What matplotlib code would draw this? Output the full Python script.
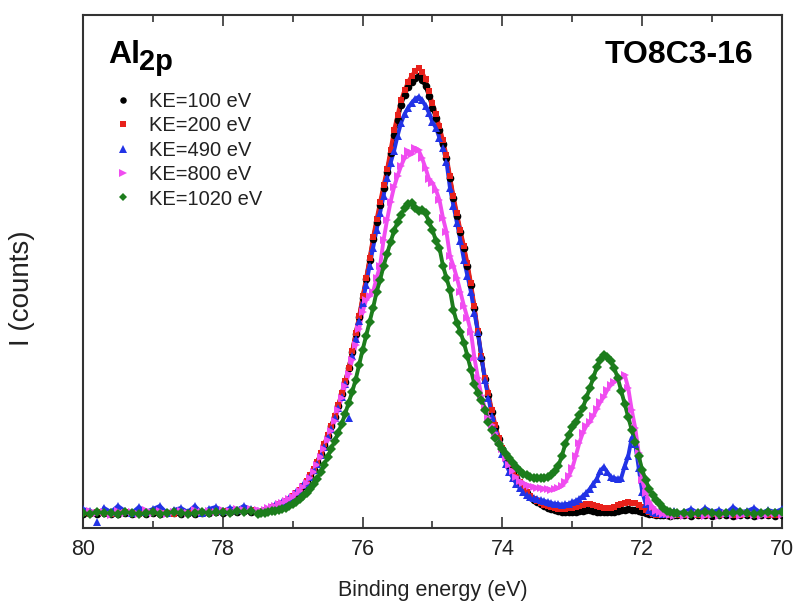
import numpy as np
import matplotlib
matplotlib.use('Agg')
import matplotlib.pyplot as plt
from matplotlib.ticker import MultipleLocator

plt.rcParams['font.family'] = ['Liberation Sans', 'DejaVu Sans']

# binding energy grid (eV): coarse on the flat baseline, fine across the peaks
be_left = np.linspace(80.0, 77.6, 25)
be_mid = np.linspace(77.5, 71.5, 121)
be_right = np.linspace(71.4, 70.0, 15)
binding_energy = np.concatenate([be_left, be_mid, be_right])

# intensities (arbitrary units)
i_ke100 = [14, 15, 14, 15, 14, 14, 15, 14, 15, 14, 15, 14, 15, 15, 14, 15, 14, 15, 15, 16, 15, 16, 16, 17, 16,
           15, 16, 17, 18, 20, 21, 23, 24, 26, 28,
           31, 34, 38, 42, 46, 52, 58, 66, 74, 83,
           92, 102, 111, 122, 134, 146, 160, 176, 194, 211,
           230, 249, 268, 289, 306, 323, 340, 356, 375, 393,
           408, 423, 433, 441, 446, 450, 452, 448, 442, 432,
           420, 410, 398, 384, 370, 350, 330, 312, 296, 280,
           262, 243, 220, 195, 170, 149, 133, 116, 101, 89,
           79, 71, 63, 56, 50, 45, 40, 35, 31, 28,
           26, 24, 22, 20, 19, 18, 17, 16, 16, 16,
           16, 16, 17, 17, 18, 18, 17, 16, 16, 16,
           16, 16, 16, 17, 18, 18, 19, 18, 18, 17,
           16, 15, 14, 14, 13, 13, 13, 13, 12, 13,
           13,
           13, 12, 13, 13, 12, 13, 13, 12, 13, 13, 12, 13, 13, 12, 13]
i_ke200 = [15, 14, 16, 15, 14, 15, 16, 15, 14, 15, 16, 15, 15, 14, 16, 15, 16, 15, 16, 16, 17, 16, 17, 17, 18,
           16, 17, 18, 19, 21, 22, 24, 25, 27, 29,
           32, 35, 38, 42, 47, 53, 59, 66, 75, 84,
           93, 102, 112, 123, 135, 147, 160, 177, 195, 212,
           232, 250, 270, 291, 309, 326, 343, 359, 378, 398,
           413, 428, 438, 446, 452, 457, 460, 456, 449, 437,
           425, 414, 402, 388, 373, 352, 332, 315, 298, 282,
           265, 245, 222, 197, 172, 150, 135, 118, 103, 90,
           80, 72, 64, 57, 51, 46, 41, 36, 32, 29,
           27, 25, 23, 22, 21, 20, 19, 19, 19, 20,
           20, 21, 22, 23, 24, 24, 23, 22, 21, 20,
           20, 20, 21, 23, 24, 25, 26, 25, 25, 23,
           21, 18, 16, 14, 13, 13, 13, 14, 13, 14,
           13,
           13, 14, 13, 13, 14, 13, 14, 13, 13, 14, 13, 14, 13, 13, 14]
i_ke490 = [19, 17, 6, 20, 16, 22, 17, 15, 21, 16, 19, 22, 15, 18, 20, 16, 22, 15, 19, 21, 17, 20, 18, 22, 19,
           17, 16, 19, 18, 20, 23, 22, 26, 25, 30,
           31, 36, 37, 43, 45, 51, 58, 64, 73, 81,
           91, 99, 110, 120, 131, 144, 110, 172, 189, 207,
           225, 243, 262, 280, 298, 315, 332, 350, 365, 377,
           392, 405, 414, 420, 425, 429, 431, 428, 422, 415,
           406, 400, 390, 380, 366, 340, 322, 305, 287, 268,
           252, 236, 215, 196, 172, 148, 130, 112, 98, 86,
           74, 64, 56, 50, 44, 40, 36, 33, 31, 30,
           29, 28, 27, 26, 25, 24, 24, 23, 24, 24,
           26, 27, 29, 32, 35, 39, 44, 49, 57, 61,
           56, 51, 50, 49, 50, 62, 72, 90, 84, 60,
           36, 24, 18, 16, 15, 16, 14, 16, 15, 17,
           15,
           16, 19, 15, 20, 16, 18, 15, 21, 16, 17, 20, 15, 18, 16, 19]
i_ke800 = [14, 17, 15, 16, 13, 17, 15, 16, 14, 18, 15, 17, 14, 16, 17, 15, 18, 16, 17, 16, 18, 17, 19, 18, 19,
           18, 17, 18, 20, 21, 22, 24, 25, 27, 29,
           31, 34, 37, 41, 45, 50, 56, 63, 71, 79,
           88, 97, 107, 118, 130, 142, 154, 168, 183, 199,
           216, 228, 232, 236, 250, 262, 288, 308, 326, 341,
           352, 362, 370, 377, 374, 380, 378, 370, 360, 349,
           345, 338, 328, 310, 296, 272, 262, 250, 236, 222,
           210, 196, 170, 150, 132, 120, 110, 103, 95, 86,
           79, 70, 63, 57, 51, 47, 45, 43, 42, 41,
           40, 40, 39, 39, 38, 39, 40, 42, 46, 52,
           60, 72, 85, 95, 102, 106, 112, 119, 126, 131,
           138, 143, 146, 148, 150, 153, 140, 118, 100, 75,
           48, 35, 26, 21, 17, 16, 14, 14, 13, 12,
           13,
           12, 13, 14, 12, 13, 12, 14, 13, 12, 14, 13, 12, 13, 14, 13]
i_ke1020 = [15, 14, 16, 15, 15, 14, 16, 15, 14, 15, 16, 14, 15, 16, 15, 14, 15, 16, 15, 16, 16, 15, 17, 16, 17,
            14, 15, 15, 16, 17, 17, 18, 19, 20, 22,
            24, 26, 29, 32, 35, 39, 44, 49, 56, 63,
            71, 79, 87, 95, 104, 114, 125, 136, 148, 163,
            178, 192, 206, 220, 236, 248, 262, 274, 286, 297,
            306, 313, 320, 324, 325, 320, 317, 318, 315, 306,
            298, 287, 280, 262, 250, 238, 218, 205, 196, 185,
            172, 158, 144, 135, 128, 118, 106, 98, 90, 84,
            79, 74, 70, 65, 61, 57, 54, 53, 51, 50,
            50, 50, 50, 51, 53, 57, 62, 72, 84, 93,
            101, 106, 113, 120, 130, 140, 150, 161, 168, 173,
            171, 167, 160, 150, 137, 124, 111, 98, 86, 72,
            58, 48, 39, 33, 28, 24, 20, 17, 16, 15,
            15,
            15, 14, 15, 16, 15, 14, 15, 15, 16, 15, 14, 15, 16, 15, 16]

# stray single points of the KE=490 scan (index into the grid), shown as markers only
ke490_stray = [2, 51]

series = [
    ('KE=100 eV', i_ke100, 'black', 'o', 5.5, []),
    ('KE=200 eV', i_ke200, '#e8211b', 's', 5.0, []),
    ('KE=490 eV', i_ke490, '#2233e6', '^', 6.0, ke490_stray),
    ('KE=800 eV', i_ke800, '#f04cf0', '>', 6.0, []),
    ('KE=1020 eV', i_ke1020, '#1c7d1c', 'D', 4.8, []),
]

fig = plt.figure(figsize=(7.97, 6.05), dpi=100)
ax = fig.add_axes([0.1041, 0.1273, 0.8771, 0.8479])

for label, vals, col, mk, ms, stray in series:
    # thick line under the markers so the dense scan reads as a band
    line_vals = np.array(vals, dtype=float)
    line_vals[stray] = np.nan
    ax.plot(binding_energy, line_vals, '-', color=col, lw=2.8, zorder=2)
    ax.plot(binding_energy, vals, mk, color=col, ms=ms, mew=0, label=label, zorder=3)

ax.set_xlim(80, 70)
ax.set_ylim(0, 513)
ax.xaxis.set_major_locator(MultipleLocator(2))
ax.xaxis.set_minor_locator(MultipleLocator(1))
ax.tick_params(axis='x', which='both', direction='in', top=True, width=1.2, colors='#333333',
               labelcolor='#222222', labelsize=15.5, pad=8)
ax.tick_params(axis='x', which='major', length=8)
ax.tick_params(axis='x', which='minor', length=5)
ax.set_yticks([])
for sp in ax.spines.values():
    sp.set_linewidth(1.5)
    sp.set_color('#333333')

ax.set_xlabel('Binding energy (eV)', fontsize=15.5, color='#222222', labelpad=14)
ax.set_ylabel('I (counts)', fontsize=20, color='#222222')
ax.yaxis.set_label_coords(-0.069, 0.468)

# sample labels
fig.text(108 / 797, 1 - 63 / 605, 'Al', fontsize=23, fontweight='bold', va='baseline')
fig.text(139 / 797, 1 - 70 / 605, '2p', fontsize=21, fontweight='bold', va='baseline')
fig.text(753 / 797, 1 - 63 / 605, 'TO8C3-16', fontsize=23, fontweight='bold', ha='right', va='baseline')

ax.legend(loc='upper left', bbox_to_anchor=(0.028, 0.87), frameon=False, fontsize=14.5,
          handlelength=1.0, handletextpad=0.8, labelspacing=0.27, borderpad=0,
          labelcolor='#222222', markerscale=0.85)

plt.savefig('out.png', dpi=100)
